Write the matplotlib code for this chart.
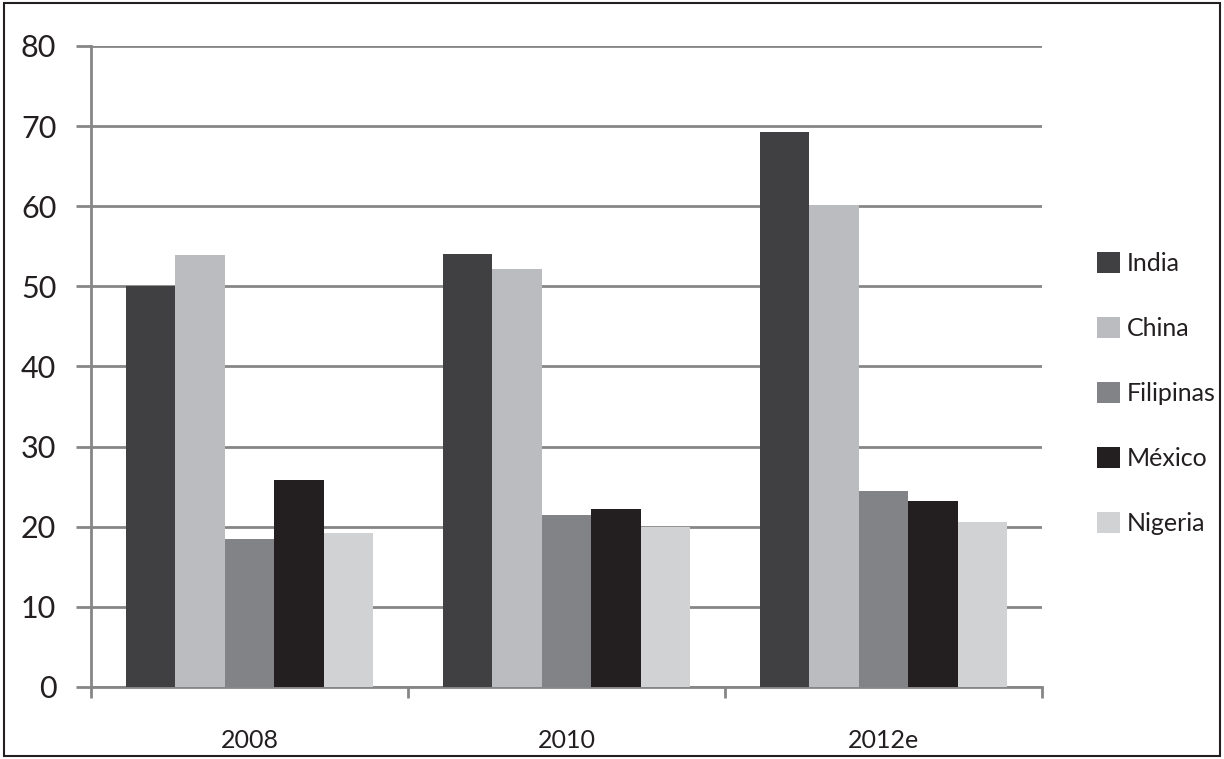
import matplotlib
matplotlib.use("Agg")
import matplotlib.pyplot as plt
from matplotlib.patches import Rectangle
import numpy as np

categories = ["2008", "2010", "2012e"]
series = ["India", "China", "Filipinas", "México", "Nigeria"]
india = [50.0, 54.0, 69.3]
china = [53.9, 52.2, 60.2]
filipinas = [18.5, 21.5, 24.5]
mexico = [25.8, 22.2, 23.2]
nigeria = [19.2, 20.0, 20.6]
colors = ["#404042", "#bbbcbf", "#828386", "#231f20", "#d1d2d4"]
yticks = [0, 10, 20, 30, 40, 50, 60, 70, 80]

plt.rcParams['font.family'] = ['Lato', 'DejaVu Sans']

fig = plt.figure(figsize=(12.24, 7.59), dpi=100)
ax = fig.add_axes([91/1224, 1-687/759, (1042-91)/1224, (687-46)/759])

data = [india, china, filipinas, mexico, nigeria]
x = np.arange(len(categories))
bw = 0.156
for i, (vals, name, c) in enumerate(zip(data, series, colors)):
    ax.bar(x + (i - 2) * bw, vals, width=bw, color=c, label=name, zorder=3)

grid_c = "#868686"
ax.set_ylim(0, 80)
ax.set_xlim(-0.5, 2.5)
ax.set_yticks(yticks)
ax.set_yticklabels([str(v) for v in yticks], fontsize=22, color="#231f20")
for v in yticks:
    ax.axhline(v, color=grid_c, lw=2, zorder=1)
ax.tick_params(axis='y', length=11, width=2, color=grid_c, pad=14)

ax.set_xticks(x)
ax.set_xticklabels(categories, fontsize=18, color="#231f20")
ax.set_xticks([-0.5, 0.5, 1.5, 2.5], minor=True)
ax.tick_params(axis='x', which='major', length=0, pad=30)
ax.tick_params(axis='x', which='minor', length=8, width=2, color=grid_c)

for s in ['top', 'right']:
    ax.spines[s].set_visible(False)
ax.spines['left'].set_color(grid_c)
ax.spines['left'].set_linewidth(2)
ax.spines['bottom'].set_color(grid_c)
ax.spines['bottom'].set_linewidth(2)

leg = fig.legend(loc='center left', bbox_to_anchor=(1097/1224, 1-393.5/759),
                 frameon=False, fontsize=18, borderpad=0, borderaxespad=0,
                 handlelength=0.9, handleheight=0.9, handletextpad=0.3,
                 labelspacing=1.68)
for t in leg.get_texts():
    t.set_color("#231f20")

fig.patches.append(Rectangle((4/1224, 3/759), 1216/1224, 753/759,
                             transform=fig.transFigure, fill=False,
                             edgecolor="#231f20", lw=1.5))

fig.savefig("out.png", dpi=100)
